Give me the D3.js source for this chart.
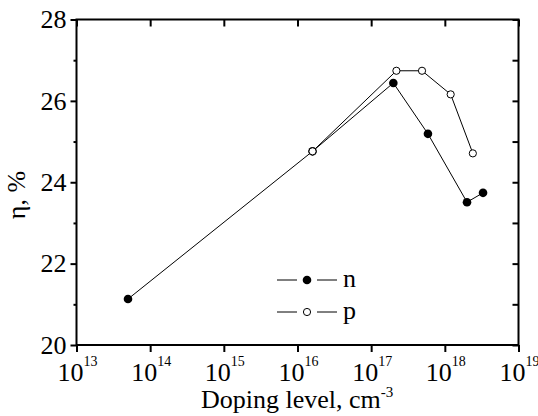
<!DOCTYPE html>
<html><head><meta charset="utf-8"><script src="https://cdn.jsdelivr.net/npm/d3@7"></script></head>
<body style="margin:0">
<svg id="chart" width="538" height="416" style="font-family: 'Times New Roman', Tinos, 'Liberation Serif', serif;"></svg>
<script>
// Efficiency vs. doping level for n- and p-type material
const nDoping = [5e13, 1.6e16, 2.0e17, 5.9e17, 2.0e18, 3.3e18];
const nEff    = [21.13, 24.76, 26.44, 25.19, 23.51, 23.74];
const pDoping = [1.6e16, 2.2e17, 4.9e17, 1.2e18, 2.4e18];
const pEff    = [24.76, 26.74, 26.74, 26.16, 24.71];

const xDecades = [13, 14, 15, 16, 17, 18, 19];
const yMajor = [20, 22, 24, 26, 28];
const yMinor = [21, 23, 25, 27];
const yAll = [20, 21, 22, 23, 24, 25, 26, 27, 28];
const seriesNames = ["n", "p"];

const FONT = "'Times New Roman', Tinos, 'Liberation Serif', serif";

const svg = d3.select("#chart");
const L = 76.5, R = 518.5, T = 19.5, B = 345;

const x = d3.scaleLog().domain([1e13, 1e19]).range([L, R]);
const y = d3.scaleLinear().domain([20, 28]).range([B, T]);

const decadeVals = xDecades.map(e => Math.pow(10, e));

function serif(sel, size) {
  return sel.style("font-family", FONT).style("font-size", size + "px").style("fill", "#000");
}

function styleAxis(g) {
  g.attr("font-family", null).attr("font-size", null);
  g.select(".domain").remove();
  g.selectAll(".tick line").attr("stroke", "#000").attr("stroke-width", 2);
  g.selectAll("text").call(serif, 26);
}

// left axis: major ticks outward with labels, minor ticks shorter
svg.append("g").attr("transform", `translate(${L},0)`)
  .call(d3.axisLeft(y).tickValues(yMajor).tickSize(6).tickPadding(4).tickFormat(d3.format("d")))
  .call(styleAxis);
svg.append("g").attr("transform", `translate(${L},0)`)
  .call(d3.axisLeft(y).tickValues(yMinor).tickSize(3).tickFormat(""))
  .call(styleAxis);

// right axis: inward ticks, no labels
svg.append("g").attr("transform", `translate(${R},0)`)
  .call(d3.axisLeft(y).tickValues(yAll).tickSize(6).tickFormat(""))
  .call(styleAxis);

// top axis: inward ticks at decades
svg.append("g").attr("transform", `translate(0,${T})`)
  .call(d3.axisBottom(x).tickValues(decadeVals).tickSize(7).tickFormat(""))
  .call(styleAxis);

// bottom axis: outward ticks at decades, power-of-ten labels
svg.append("g").attr("transform", `translate(0,${B})`)
  .call(d3.axisBottom(x).tickValues(decadeVals).tickSize(7).tickFormat(""))
  .call(styleAxis);

xDecades.forEach(e => {
  const t = svg.append("text")
    .attr("x", x(Math.pow(10, e)) + 1)
    .attr("y", 381)
    .attr("text-anchor", "middle")
    .call(serif, 26);
  t.append("tspan").text("10");
  t.append("tspan").attr("dy", -15).style("font-size", "14px").text(String(e));
});

// frame
svg.append("rect")
  .attr("x", L).attr("y", T)
  .attr("width", R - L).attr("height", B - T)
  .attr("fill", "none").attr("stroke", "#000").attr("stroke-width", 2);

// axis titles
const xt = svg.append("text")
  .attr("x", 201).attr("y", 408)
  .call(serif, 26);
xt.append("tspan").text("Doping level, cm");
xt.append("tspan").attr("dy", -11).style("font-size", "15px").text("-3");

svg.append("text")
  .attr("transform", "translate(25,195) rotate(-90)")
  .attr("text-anchor", "middle")
  .call(serif, 26)
  .text("η, %");

// series lines
const line = d3.line().x(d => x(d[0])).y(d => y(d[1]));
const nPts = nDoping.map((d, i) => [d, nEff[i]]);
const pPts = pDoping.map((d, i) => [d, pEff[i]]);

svg.append("path").datum(nPts).attr("d", line)
  .attr("fill", "none").attr("stroke", "#000").attr("stroke-width", 1);
svg.append("path").datum(pPts).attr("d", line)
  .attr("fill", "none").attr("stroke", "#000").attr("stroke-width", 1);

// markers
svg.append("g").selectAll("circle").data(nPts).join("circle")
  .attr("cx", d => x(d[0])).attr("cy", d => y(d[1]))
  .attr("r", 4.3).attr("fill", "#000");
svg.append("g").selectAll("circle").data(pPts).join("circle")
  .attr("cx", d => x(d[0])).attr("cy", d => y(d[1]))
  .attr("r", 3.6).attr("fill", "#fff").attr("stroke", "#000").attr("stroke-width", 1);

// legend
const legendRows = [
  { name: seriesNames[0], y: 280, filled: true },
  { name: seriesNames[1], y: 312, filled: false }
];
legendRows.forEach(r => {
  const g = svg.append("g");
  g.append("line").attr("x1", 277).attr("x2", 297).attr("y1", r.y).attr("y2", r.y)
    .attr("stroke", "#000").attr("stroke-width", 1);
  g.append("line").attr("x1", 317).attr("x2", 337).attr("y1", r.y).attr("y2", r.y)
    .attr("stroke", "#000").attr("stroke-width", 1);
  if (r.filled) {
    g.append("circle").attr("cx", 307).attr("cy", r.y).attr("r", 4.3).attr("fill", "#000");
  } else {
    g.append("circle").attr("cx", 307).attr("cy", r.y).attr("r", 3.6)
      .attr("fill", "#fff").attr("stroke", "#000").attr("stroke-width", 1);
  }
  g.append("text").attr("x", 343).attr("y", r.y + 7).call(serif, 26).text(r.name);
});
</script></body></html>
